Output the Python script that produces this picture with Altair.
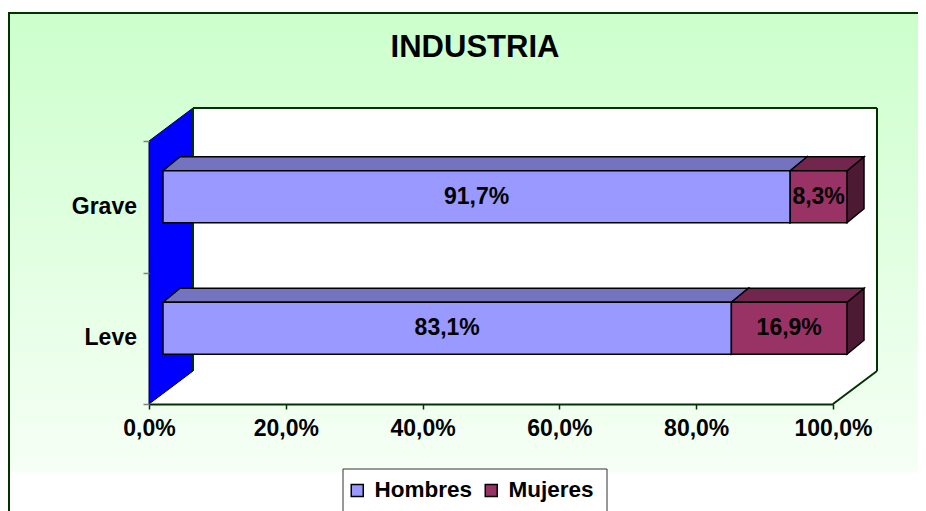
import altair as alt
import pandas as pd

# ---------------- data ----------------
categories = ["Grave", "Leve"]
series = ["Hombres", "Mujeres"]
hombres = [91.7, 83.1]
mujeres = [8.3, 16.9]
x_ticks = [0, 20, 40, 60, 80, 100]
title_text = "INDUSTRIA"

front_colors = ["#9999FF", "#993366"]
top_colors = ["#7373BF", "#73264D"]
side_colors = ["#5C5C99", "#4D1A33"]

# ---------------- layout ----------------
FONT = "Liberation Sans"
W, H = 684, 296
PX = 100.0 / W               # one pixel in x data units
BAR_DX, BAR_DY = 14, 10      # offset of bar front face from floor front
DEPTH_X, DEPTH_Y = 17, 14    # bar depth
BAR_H = 52
WALL_DX, WALL_DY = 44, 33    # wall depth
AXIS_TOP = 33
STEP = (H - AXIS_TOP) / len(categories)

XS = alt.Scale(domain=[0, 100], nice=False, zero=False)
YS = alt.Scale(domain=[0, H], range=[0, H], nice=False, zero=False)

XAXIS = alt.Axis(values=x_ticks,
                 labelExpr="replace(format(datum.value, '.1f'), '.', ',') + '%'",
                 labelFont=FONT, labelFontSize=23, labelFontWeight="bold",
                 labelColor="black", labelPadding=8, labelFlush=False,
                 labelOverlap=False, tickSize=5, tickColor="#003300",
                 tickWidth=1.5, domainColor="#003300", domainWidth=2,
                 grid=False, title=None, zindex=1)
YAXIS = alt.Axis(values=[AXIS_TOP + i * STEP for i in range(len(categories) + 1)],
                 labels=False, domain=False, grid=False, tickSize=6,
                 tickColor="#808080", tickWidth=1.5, title=None, zindex=1)

# ---------------- derived tables ----------------
vals = [hombres, mujeres]
bar_rows, top_rows, side_rows, cat_rows = [], [], [], []
for i, cat in enumerate(categories):
    band_c = AXIS_TOP + (i + 0.5) * STEP
    cat_rows.append({"category": cat, "cy": band_c})
    cy = band_c - BAR_DY
    top, bot = cy - BAR_H / 2, cy + BAR_H / 2
    start = 0.0
    for j, s in enumerate(series):
        v = vals[j][i]
        end = start + v
        seg = f"{cat}-{s}"
        x0, x1 = start + BAR_DX * PX, end + BAR_DX * PX
        bar_rows.append({"category": cat, "series": s, "fx0": x0, "fx1": x1,
                         "fy0": top, "fy1": bot, "mid": (x0 + x1) / 2, "cy": cy,
                         "label": f"{v:.1f}".replace(".", ",") + "%"})
        top_rows.append({"seg": seg, "y": top, "xa": x0, "xb": x1, "fill": top_colors[j]})
        top_rows.append({"seg": seg, "y": top - DEPTH_Y, "xa": x0 + DEPTH_X * PX,
                         "xb": x1 + DEPTH_X * PX, "fill": top_colors[j]})
        side_rows.append({"seg": seg, "x": x1, "ya": top, "yb": bot, "fill": side_colors[j]})
        side_rows.append({"seg": seg, "x": x1 + DEPTH_X * PX, "ya": top - DEPTH_Y,
                          "yb": bot - DEPTH_Y, "fill": side_colors[j]})
        start = end

bars_df = pd.DataFrame(bar_rows)
top_df = pd.DataFrame(top_rows)
side_df = pd.DataFrame(side_rows)
cat_df = pd.DataFrame(cat_rows)

one = pd.DataFrame({"k": [0]})

# ---------------- decorative layers ----------------
grad = alt.LinearGradient(gradient="linear", x1=0, x2=0, y1=0, y2=1,
                          stops=[alt.GradientStop(color="#CCFFCC", offset=0),
                                 alt.GradientStop(color="#F6FFF6", offset=0.92),
                                 alt.GradientStop(color="#FFFFFF", offset=0.925),
                                 alt.GradientStop(color="#FFFFFF", offset=1)])
background = alt.Chart(one).mark_rect(fill=grad).encode(
    x=alt.value(-141), x2=alt.value(769), y=alt.value(-96), y2=alt.value(403))
frame_left = alt.Chart(one).mark_rule(color="#003300", strokeWidth=2).encode(
    x=alt.value(-140), y=alt.value(-96), y2=alt.value(403))
frame_top = alt.Chart(one).mark_rule(color="#003300", strokeWidth=2).encode(
    x=alt.value(-141), x2=alt.value(769), y=alt.value(-95))

back_wall = alt.Chart(pd.DataFrame({"x0": [WALL_DX * PX], "x1": [(W + WALL_DX) * PX],
                                    "y0": [0], "y1": [H - WALL_DY]})).mark_rect(fill="white").encode(
    x=alt.X("x0:Q", scale=XS, axis=XAXIS), x2="x1:Q",
    y=alt.Y("y0:Q", scale=YS, axis=YAXIS), y2="y1:Q")

floor = alt.Chart(pd.DataFrame({"y": [H, H - WALL_DY], "xa": [0, WALL_DX * PX],
                                "xb": [100, (W + WALL_DX) * PX]})).mark_area(
    orient="horizontal", fill="white").encode(
    y=alt.Y("y:Q", scale=YS, axis=YAXIS),
    x=alt.X("xa:Q", scale=XS, axis=XAXIS, stack=None), x2="xb:Q")

left_wall = alt.Chart(pd.DataFrame({"x": [0, WALL_DX * PX], "ya": [AXIS_TOP, 0],
                                    "yb": [H, H - WALL_DY]})).mark_area(
    orient="vertical", fill="#0000FF", stroke="#000033", strokeWidth=1).encode(
    x=alt.X("x:Q", scale=XS, axis=XAXIS),
    y=alt.Y("ya:Q", scale=YS, axis=YAXIS, stack=None), y2="yb:Q")

edge_style = dict(color="#003300", strokeWidth=2)
edge_top = alt.Chart(one).mark_rule(**edge_style).encode(
    x=alt.value(WALL_DX), x2=alt.value(W + WALL_DX), y=alt.value(0))
edge_right = alt.Chart(one).mark_rule(**edge_style).encode(
    x=alt.value(W + WALL_DX), y=alt.value(0), y2=alt.value(H - WALL_DY))
edge_left = alt.Chart(one).mark_rule(**edge_style).encode(
    x=alt.value(WALL_DX), y=alt.value(0), y2=alt.value(H - WALL_DY))
edge_diag = alt.Chart(one).mark_rule(**edge_style).encode(
    x=alt.value(W + WALL_DX), y=alt.value(H - WALL_DY), x2=alt.value(W), y2=alt.value(H))

# legend frame (box behind the legend entries)
legend_box = alt.Chart(one).mark_rect(fill="white", stroke="#333333", strokeWidth=1).encode(
    x=alt.value(194), x2=alt.value(458), y=alt.value(361), y2=alt.value(430))

# ---------------- bars ----------------
sides = alt.Chart(side_df).mark_area(orient="vertical", stroke="black",
                                     strokeWidth=1.5, opacity=1).encode(
    x=alt.X("x:Q", scale=XS, axis=XAXIS),
    y=alt.Y("ya:Q", scale=YS, axis=YAXIS, stack=None), y2="yb:Q",
    detail="seg:N", fill=alt.Fill("fill:N", scale=None))

tops = alt.Chart(top_df).mark_area(orient="horizontal", stroke="black",
                                   strokeWidth=1.5, opacity=1).encode(
    y=alt.Y("y:Q", scale=YS, axis=YAXIS),
    x=alt.X("xa:Q", scale=XS, axis=XAXIS, stack=None), x2="xb:Q",
    detail="seg:N", fill=alt.Fill("fill:N", scale=None))

fronts = alt.Chart(bars_df).mark_rect(stroke="black", strokeWidth=1.5).encode(
    x=alt.X("fx0:Q", scale=XS, axis=XAXIS), x2="fx1:Q",
    y=alt.Y("fy0:Q", scale=YS, axis=YAXIS), y2="fy1:Q",
    color=alt.Color("series:N", scale=alt.Scale(domain=series, range=front_colors),
                    legend=alt.Legend(title=None, orient="none", legendX=197, legendY=371,
                                      direction="horizontal", symbolType="square",
                                      symbolSize=144, symbolStrokeColor="black",
                                      symbolStrokeWidth=1.5, symbolOpacity=1,
                                      labelFont=FONT, labelFontSize=22.5,
                                      labelFontWeight="bold", labelColor="black",
                                      labelOffset=6, columnPadding=7, padding=0,
                                      zindex=2)))

labels = alt.Chart(bars_df).mark_text(font=FONT, fontSize=23, fontWeight="bold",
                                      color="black", align="center",
                                      baseline="middle").encode(
    x=alt.X("mid:Q", scale=XS, axis=XAXIS),
    y=alt.Y("cy:Q", scale=YS, axis=YAXIS), text="label:N")

cat_labels = alt.Chart(cat_df).mark_text(font=FONT, fontSize=23, fontWeight="bold",
                                         color="black", align="right",
                                         baseline="middle").encode(
    x=alt.value(-12), y=alt.Y("cy:Q", scale=YS, axis=YAXIS), text="category:N")

title = alt.Chart(one).mark_text(text=title_text, font=FONT, fontSize=31,
                                 fontWeight="bold", color="black", align="center",
                                 baseline="middle").encode(
    x=alt.value(326), y=alt.value(-60))

chart = alt.layer(
    background, frame_left, frame_top, back_wall, floor, left_wall,
    edge_top, edge_right, edge_left, edge_diag, legend_box,
    sides, tops, fronts, labels, cat_labels, title
).properties(
    width=W, height=H,
    padding={"left": 141, "top": 100, "right": 85, "bottom": 107},
    autosize=alt.AutoSizeParams(type="none"),
    background="white"
).configure_view(stroke=None)

chart.save("out.html", embed_options={"renderer": "svg", "actions": False})
